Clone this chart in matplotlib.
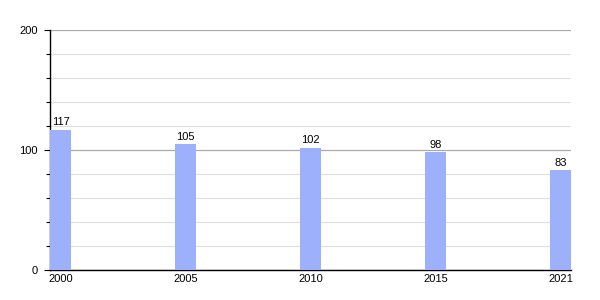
import numpy as np
import matplotlib.pyplot as plt
from matplotlib.ticker import MultipleLocator

# Values
years = ['2000', '2005', '2010', '2015', '2021']
values = [117, 105, 102, 98, 83]

plt.rcParams['font.family'] = ['Liberation Sans', 'DejaVu Sans']
plt.rcParams['font.size'] = 8

fig = plt.figure(figsize=(6, 3), dpi=100)
ax = fig.add_axes([50 / 600, 30 / 300, 521 / 600, 240 / 300])

w = 0.168
x = np.arange(len(years))
bars = ax.bar(x, values, width=w, align='edge', color='#9cb0fb', zorder=3)
for xi, v in zip(x, values):
    ax.text(xi + w / 2, v + 2, str(v), ha='center', va='bottom', fontsize=8)

ax.set_xlim(0, len(years) - 1 + w)
ax.set_ylim(0, 200)
ax.set_xticks(x + w / 2)
ax.set_xticklabels(years)
ax.tick_params(axis='x', length=0, pad=3)

ax.yaxis.set_major_locator(MultipleLocator(100))
ax.yaxis.set_minor_locator(MultipleLocator(20))
ax.tick_params(axis='y', which='major', length=4, width=0.8, pad=5)
ax.tick_params(axis='y', which='minor', length=3, width=0.8)
ax.grid(axis='y', which='major', color='#aaaaaa', linewidth=0.9, zorder=0)
ax.grid(axis='y', which='minor', color='#e0e0e0', linewidth=0.9, zorder=0)

for s in ['top', 'right']:
    ax.spines[s].set_visible(False)
ax.spines['left'].set_linewidth(1)
ax.spines['bottom'].set_linewidth(1)

fig.savefig('out.png', dpi=100)
